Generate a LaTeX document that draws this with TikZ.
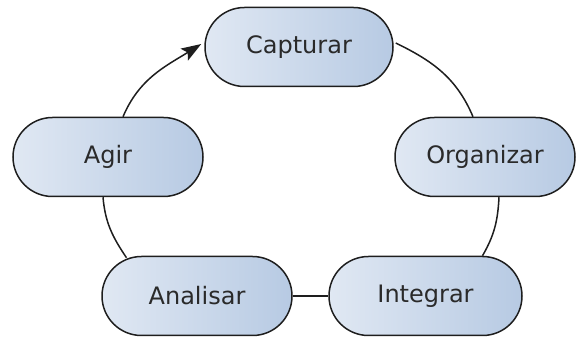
\documentclass[tikz,border=0pt]{standalone}
\usepackage{fontspec}
\setmainfont{DejaVu Sans}
\usetikzlibrary{shapes.misc,arrows.meta}
\definecolor{fillL}{HTML}{E0E8F3}
\definecolor{fillR}{HTML}{B7CAE3}
\definecolor{edge}{HTML}{1E1E1E}
\definecolor{txt}{HTML}{2A2A2A}
\begin{document}
\begin{tikzpicture}[x=1pt,y=1pt,
  stage/.style={rounded rectangle, draw=edge, line width=1.5pt,
    left color=fillL, right color=fillR, minimum height=79pt,
    inner sep=0pt, font=\fontsize{24}{28}\selectfont, text=txt},
  link/.style={draw=edge, line width=1.5pt}]
\useasboundingbox (0,0) rectangle (576,337);

\node[stage, minimum width=188pt] (cap) at (299,290) {Capturar};
\node[stage, minimum width=190pt] (agir) at (108,180) {Agir};
\node[stage, minimum width=180pt] (org) at (485,180) {Organizar};
\node[stage, minimum width=190pt] (ana) at (197,41) {Analisar};
\node[stage, minimum width=193pt] (int) at (425.5,41) {Integrar};

% cycle connectors
\draw[link] ([shift={(2,4)}]cap.east) to[out=-26,in=113] ([xshift=-12]org.north);
\draw[link] ([xshift=14]org.south) to[out=-93,in=60] ([xshift=57]int.north);
\draw[link] (ana.east) -- (int.west);
\draw[link] ([xshift=-5]agir.south) to[out=-85,in=124] ([shift={(-15,-2)}]ana.north west);
\draw[link, -{Stealth[length=20pt,width=14pt,inset=4pt]}]
  ([xshift=15]agir.north) to[out=67,in=212] ([shift={(-3,3)}]cap.west);
\end{tikzpicture}
\end{document}
